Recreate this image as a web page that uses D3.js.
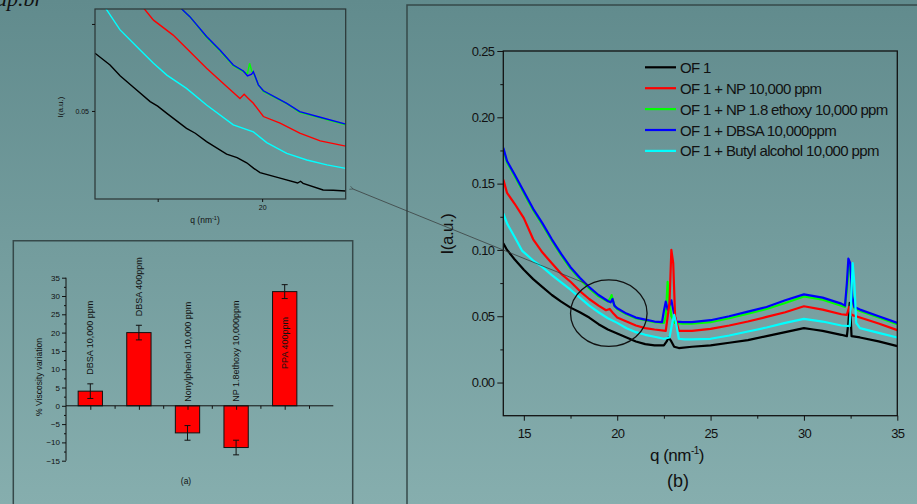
<!DOCTYPE html>
<html>
<head>
<meta charset="utf-8">
<script src="https://cdnjs.cloudflare.com/ajax/libs/d3/7.8.5/d3.min.js"></script>
<style>
body { margin: 0; overflow: hidden; }
svg text { font-family: "Liberation Sans", Arial, sans-serif; fill: #111; }
</style>
</head>
<body>
<div id="map"></div>
<script>
// ---- (b) SAXS curves, [q, I] ----
const legendLabels = ["OF 1", "OF 1 + NP 10,000 ppm", "OF 1 + NP 1.8 ethoxy 10,000 ppm", "OF 1 + DBSA 10,000ppm", "OF 1 + Butyl alcohol 10,000 ppm"];
const seriesColors = ["#000000", "#ff0000", "#00ff00", "#0000ff", "#00ffff"];

const of1 = [[13.9,0.105],[14.1,0.1],[14.5,0.093],[15,0.085],[15.5,0.078],[16,0.072],[16.5,0.066],[17,0.061],[17.5,0.0565],[18,0.053],[18.5,0.049],[19,0.044],[19.5,0.040],[20,0.037],[20.5,0.034],[21,0.031],[21.5,0.029],[22,0.028],[22.5,0.028],[22.65,0.031],[22.75,0.034],[22.9,0.031],[23.05,0.027],[23.3,0.026],[24,0.027],[25,0.028],[26,0.030],[27,0.032],[28,0.035],[29,0.038],[30,0.041],[30.5,0.040],[31,0.039],[32,0.036],[32.3,0.035],[32.38,0.045],[32.45,0.06],[32.5,0.05],[32.55,0.035],[33,0.034],[34,0.031],[35,0.0275]];
const ofNP = [[13.9,0.153],[14.1,0.143],[14.5,0.135],[15,0.124],[15.5,0.108],[16,0.098],[16.5,0.09],[17,0.082],[17.5,0.076],[18,0.069],[18.5,0.063],[19,0.058],[19.4,0.0545],[19.6,0.0555],[19.8,0.052],[20,0.049],[20.5,0.046],[21,0.043],[21.5,0.041],[22,0.04],[22.6,0.039],[22.8,0.06],[22.9,0.1],[23.0,0.09],[23.1,0.05],[23.3,0.039],[24,0.039],[25,0.0405],[26,0.043],[27,0.046],[28,0.0495],[29,0.053],[30,0.0575],[31,0.055],[32,0.0515],[32.3,0.051],[32.42,0.057],[32.55,0.051],[33,0.049],[34,0.0445],[35,0.0395]];
const ofNPeth = [[13.9,0.176],[14.1,0.166],[14.5,0.156],[15,0.143],[15.5,0.130],[16,0.119],[16.5,0.107],[17,0.096],[17.5,0.086],[18,0.078],[18.5,0.071],[19,0.065],[19.5,0.061],[19.65,0.064],[19.7,0.066],[19.8,0.060],[19.9,0.057],[20,0.0555],[20.5,0.0515],[21,0.0485],[21.5,0.047],[22,0.0455],[22.5,0.045],[22.6,0.05],[22.7,0.076],[22.8,0.06],[22.9,0.05],[23.1,0.045],[23.5,0.0445],[24,0.0445],[25,0.0455],[26,0.0485],[27,0.052],[28,0.0555],[29,0.06],[30,0.065],[31,0.0625],[32,0.058],[32.2,0.057],[32.3,0.07],[32.4,0.088],[32.5,0.085],[32.6,0.062],[32.7,0.056],[33,0.054],[34,0.049],[35,0.044]];
const ofDBSA = [[13.9,0.177],[14.1,0.167],[14.5,0.157],[15,0.144],[15.5,0.131],[16,0.12],[16.5,0.108],[17,0.097],[17.5,0.087],[18,0.079],[18.5,0.072],[19,0.066],[19.5,0.0615],[19.65,0.0605],[19.75,0.063],[19.85,0.058],[20,0.056],[20.5,0.052],[21,0.049],[21.5,0.0475],[22,0.046],[22.4,0.0455],[22.5,0.054],[22.6,0.061],[22.7,0.055],[22.9,0.062],[23.0,0.055],[23.15,0.046],[23.5,0.0455],[24,0.0455],[25,0.047],[26,0.05],[27,0.0535],[28,0.057],[29,0.062],[30,0.0665],[31,0.064],[32,0.0595],[32.2,0.058],[32.3,0.075],[32.38,0.0935],[32.48,0.09],[32.58,0.065],[32.7,0.057],[33,0.055],[34,0.05],[35,0.045]];
const ofButyl = [[13.9,0.1275],[14.1,0.12],[14.5,0.11],[14.9,0.0995],[15.5,0.092],[16,0.087],[16.5,0.081],[17,0.0755],[17.5,0.07],[18,0.064],[18.5,0.058],[19,0.053],[19.5,0.0485],[20,0.045],[20.5,0.041],[21,0.038],[21.5,0.036],[22,0.0345],[22.5,0.033],[22.8,0.034],[22.95,0.045],[23.05,0.051],[23.15,0.045],[23.3,0.033],[23.6,0.0325],[24,0.0325],[25,0.033],[26,0.0355],[27,0.0385],[28,0.0415],[29,0.045],[30,0.048],[31,0.046],[32,0.043],[32.45,0.0425],[32.52,0.06],[32.61,0.09],[32.7,0.075],[32.8,0.045],[33,0.041],[34,0.0375],[35,0.034]];
const mainSeries = [of1, ofNP, ofNPeth, ofDBSA, ofButyl];
const drawOrder = [2, 3, 0, 1, 4];
const qTicks = [15, 20, 25, 30, 35];
const qMinor = [17.5, 22.5, 27.5, 32.5];
const iTicks = [0, 0.05, 0.10, 0.15, 0.20, 0.25];
const iMinor = [0.025, 0.075, 0.125, 0.175, 0.225];

// ---- inset (zoom around q = 20) ----
const inBlack = [[16,0.0666],[16.36,0.0632],[16.6,0.0601],[16.92,0.0568],[17.32,0.0527],[17.5,0.0514],[17.72,0.0493],[18.19,0.045],[18.4,0.0436],[18.67,0.0412],[19.15,0.0376],[19.4,0.0366],[19.63,0.0351],[19.8,0.0335],[19.95,0.0323],[20.43,0.0307],[20.85,0.0293],[20.92,0.0298],[20.98,0.0292],[21.46,0.0273],[21.7,0.0272],[22,0.027]];
const inRed = [[17.1,0.0805],[17.4,0.0761],[17.87,0.0718],[18.19,0.068],[18.67,0.0623],[19.15,0.057],[19.47,0.0536],[19.57,0.0548],[19.67,0.0536],[19.79,0.0522],[20.03,0.0484],[20.43,0.0465],[20.9,0.0436],[21.39,0.0414],[22,0.0399]];
const inGreen = [[17.97,0.0805],[18.27,0.0771],[18.67,0.0712],[18.99,0.0673],[19.31,0.063],[19.55,0.0613],[19.65,0.0608],[19.7,0.0637],[19.75,0.0615],[19.79,0.061],[19.91,0.0575],[20.03,0.0556],[20.59,0.0521],[20.9,0.0496],[21.39,0.048],[22,0.046]];
const inBlue = [[17.97,0.0805],[18.27,0.0771],[18.67,0.0714],[18.99,0.0675],[19.31,0.0632],[19.55,0.0615],[19.65,0.0601],[19.75,0.0606],[19.79,0.0613],[19.91,0.0575],[20.03,0.0558],[20.59,0.0522],[20.9,0.0498],[21.39,0.0482],[22,0.0462]];
const inCyan = [[16.2,0.0805],[16.6,0.0733],[17.08,0.0675],[17.4,0.0637],[17.72,0.0603],[18.19,0.0565],[18.67,0.0517],[19.31,0.046],[19.79,0.044],[20.11,0.0409],[20.59,0.0378],[21.07,0.0359],[21.55,0.0345],[22,0.0335]];
const insetSeries = [inBlack, inRed, inGreen, inBlue, inCyan];

// ---- (a) viscosity bars ----
const barLabels = ["DBSA 10,000 ppm", "DBSA 400ppm", "Nonylphenol 10,000 ppm", "NP 1.8ethoxy 10,000ppm", "PPA 400ppm"];
const barValues = [4, 20, -7.4, -11.4, 31.2];
const barErrors = [2, 2, 2, 2, 1.9];
const vTicks = [-15, -10, -5, 0, 5, 10, 15, 20, 25, 30, 35];

const W = 917, H = 504;
const svg = d3.select("#map").append("svg").attr("width", W).attr("height", H);

const grad = svg.append("defs").append("linearGradient")
    .attr("id", "bg").attr("x1", 0).attr("y1", 0).attr("x2", 0).attr("y2", 1);
grad.append("stop").attr("offset", 0).attr("stop-color", "#618b8d");
grad.append("stop").attr("offset", 1).attr("stop-color", "#86aeae");
svg.append("rect").attr("width", W).attr("height", H).attr("fill", "url(#bg)");

svg.append("text").attr("x", -4).attr("y", 6)
    .style("font-family", "'Liberation Serif', serif").style("font-style", "italic")
    .style("font-size", "22px").text("ap.br");

// panel frames
svg.append("path").attr("d", "M407,504V5H920").attr("fill", "none").attr("stroke", "#36494a").attr("stroke-width", 1.5);
svg.append("path").attr("d", "M13.3,504V240.7H352.7V504").attr("fill", "none").attr("stroke", "#36494a").attr("stroke-width", 1.5);

function styleAxis(g) {
    g.select(".domain").remove();
    g.selectAll("line").attr("stroke", "#111");
    g.selectAll("text").attr("fill", "#111");
}

function plot_main() {
    const x = d3.scaleLinear().domain([13.9, 35]).range([503.3, 897.3]);
    const y = d3.scaleLinear().domain([-0.025, 0.25]).range([415.7, 51]);
    const g = svg.append("g");

    g.append("clipPath").attr("id", "mclip").append("rect")
        .attr("x", 503.3).attr("y", 51).attr("width", 394).attr("height", 364.7);

    const line = d3.line().x(d => x(d[0])).y(d => y(d[1]));
    drawOrder.forEach(i => {
        g.append("path").datum(mainSeries[i]).attr("d", line)
            .attr("clip-path", "url(#mclip)")
            .attr("fill", "none").attr("stroke", seriesColors[i]).attr("stroke-width", 2.2)
            .attr("stroke-linejoin", "round");
    });

    g.append("rect").attr("x", 503.3).attr("y", 51).attr("width", 394).attr("height", 364.7)
        .attr("fill", "none").attr("stroke", "#111").attr("stroke-width", 1.3);

    const xa = g.append("g").attr("transform", "translate(0,415.7)")
        .call(d3.axisBottom(x).tickValues(qTicks).tickSize(5).tickPadding(8));
    xa.selectAll("text").style("font-size", "13px").style("letter-spacing", "-0.7px");
    styleAxis(xa);
    styleAxis(g.append("g").attr("transform", "translate(0,415.7)")
        .call(d3.axisBottom(x).tickValues(qMinor).tickSize(3).tickFormat("")));

    const ya = g.append("g").attr("transform", "translate(503.3,0)")
        .call(d3.axisLeft(y).tickValues(iTicks).tickFormat(d3.format(".2f")).tickSize(6).tickPadding(3));
    ya.selectAll("text").style("font-size", "13px").style("letter-spacing", "-0.7px");
    styleAxis(ya);
    styleAxis(g.append("g").attr("transform", "translate(503.3,0)")
        .call(d3.axisLeft(y).tickValues(iMinor).tickSize(3).tickFormat("")));

    const ql = g.append("text").attr("x", 677).attr("y", 461).attr("text-anchor", "middle")
        .style("font-size", "17px").style("letter-spacing", "-0.5px");
    ql.append("tspan").text("q (nm");
    ql.append("tspan").attr("dy", -7).style("font-size", "10px").text("-1");
    ql.append("tspan").attr("dy", 7).text(")");
    g.append("text").attr("x", 678).attr("y", 487).attr("text-anchor", "middle")
        .style("font-size", "18px").text("(b)");
    g.append("text").attr("transform", "translate(453,234) rotate(-90)").attr("text-anchor", "middle")
        .style("font-size", "17px").style("letter-spacing", "-0.5px").text("I(a.u.)");

    const leg = g.append("g");
    legendLabels.forEach((lab, i) => {
        const ly = 67.3 + i * 20.9;
        leg.append("line").attr("x1", 645).attr("x2", 676).attr("y1", ly).attr("y2", ly)
            .attr("stroke", seriesColors[i]).attr("stroke-width", 2.2);
        leg.append("text").attr("x", 680).attr("y", ly + 5.5)
            .style("font-size", "15px").style("letter-spacing", "-0.65px").text(lab);
    });

    // zoom mark and pointer to the inset
    g.append("ellipse").attr("cx", x(19.55)).attr("cy", y(0.0523))
        .attr("rx", x(21.6) - x(19.55)).attr("ry", y(0.0272) - y(0.0523))
        .attr("fill", "none").attr("stroke", "#111").attr("stroke-width", 1.3);
    return [x(18.38), y(0.0743)];
}

function plot_inset(target) {
    const x = d3.scaleLinear().domain([16, 22]).range([95, 345.7]);
    const y = d3.scaleLinear().domain([0.0247, 0.0793]).range([199, 9]);
    const g = svg.append("g");

    g.append("clipPath").attr("id", "iclip").append("rect")
        .attr("x", 95).attr("y", 9).attr("width", 250.7).attr("height", 190);
    const line = d3.line().x(d => x(d[0])).y(d => y(d[1]));
    [0, 1, 4, 2, 3].forEach(i => {
        g.append("path").datum(insetSeries[i]).attr("d", line)
            .attr("clip-path", "url(#iclip)")
            .attr("fill", "none").attr("stroke", seriesColors[i]).attr("stroke-width", 1.4);
    });
    g.append("rect").attr("x", 95).attr("y", 9).attr("width", 250.7).attr("height", 190)
        .attr("fill", "none").attr("stroke", "#2a3535").attr("stroke-width", 1.2);

    const xa = g.append("g").attr("transform", "translate(0,199)")
        .call(d3.axisBottom(x).tickValues([17.5, 20]).tickFormat(d => d === 20 ? "20" : "").tickSize(3).tickPadding(3));
    xa.selectAll("text").style("font-size", "7px");
    styleAxis(xa);
    const ya = g.append("g").attr("transform", "translate(95,0)")
        .call(d3.axisLeft(y).tickValues([0.05, 0.075]).tickFormat(d => d === 0.05 ? "0.05" : "").tickSize(3).tickPadding(3));
    ya.selectAll("text").style("font-size", "7px");
    styleAxis(ya);

    const ql = g.append("text").attr("x", 205).attr("y", 223).attr("text-anchor", "middle").style("font-size", "8.5px");
    ql.append("tspan").text("q (nm");
    ql.append("tspan").attr("dy", -3.5).style("font-size", "5.5px").text("-1");
    ql.append("tspan").attr("dy", 3.5).text(")");
    g.append("text").attr("transform", "translate(63,107) rotate(-90)").attr("text-anchor", "middle")
        .style("font-size", "8px").text("I(a.u.)");

    // pointer line from the zoom circle to the inset
    svg.append("defs").append("marker").attr("id", "arr").attr("viewBox", "0 0 10 10")
        .attr("refX", 1).attr("refY", 5).attr("markerWidth", 6).attr("markerHeight", 6).attr("orient", "auto")
        .append("path").attr("d", "M9,1L1,5L9,9").attr("fill", "none").attr("stroke", "#333").attr("stroke-width", 1.2);
    svg.append("line").attr("x1", target[0]).attr("y1", target[1]).attr("x2", 353).attr("y2", 189)
        .attr("stroke", "#333").attr("stroke-width", 0.7).attr("marker-end", "url(#arr)");
}

function plot_bars() {
    const x = d3.scaleLinear().domain([0.5, 6]).range([66, 333.3]);
    const y = d3.scaleLinear().domain([-15, 35]).range([460.7, 277.7]);
    const g = svg.append("g");

    g.selectAll("rect.bar").data(barValues).enter().append("rect")
        .attr("x", (d, i) => x(i + 1 - 0.25))
        .attr("y", d => y(Math.max(0, d)))
        .attr("width", x(1.25) - x(0.75))
        .attr("height", d => Math.abs(y(d) - y(0)))
        .attr("fill", "#ff0000").attr("stroke", "#111").attr("stroke-width", 1);

    barValues.forEach((v, i) => {
        const cx = x(i + 1), e = barErrors[i];
        g.append("path")
            .attr("d", `M${cx},${y(v - e)}V${y(v + e)}M${cx - 3},${y(v - e)}H${cx + 3}M${cx - 3},${y(v + e)}H${cx + 3}`)
            .attr("stroke", "#111").attr("stroke-width", 1).attr("fill", "none");
        let ty, anchor = "start";
        if (v + e > 30) { ty = y(v * 0.55); anchor = "middle"; }
        else ty = y(Math.max(0, v + e)) - (v > 0 ? 9 : 4);
        g.append("text").attr("transform", `translate(${cx + 3},${ty}) rotate(-90)`)
            .attr("text-anchor", anchor).style("font-size", "9px").text(barLabels[i]);
    });

    const xa = g.append("g").attr("transform", `translate(0,${y(0)})`)
        .call(d3.axisBottom(x).tickValues([1, 2, 3, 4, 5]).tickSize(4).tickFormat(""));
    styleAxis(xa);
    styleAxis(g.append("g").attr("transform", `translate(0,${y(0)})`)
        .call(d3.axisBottom(x).tickValues([1.5, 2.5, 3.5, 4.5, 5.5]).tickSize(3).tickFormat("")));
    g.append("line").attr("x1", x(0.5)).attr("x2", x(6)).attr("y1", y(0)).attr("y2", y(0))
        .attr("stroke", "#111").attr("stroke-width", 1);

    const ya = g.append("g").attr("transform", "translate(66,0)")
        .call(d3.axisLeft(y).tickValues(vTicks).tickSize(4).tickPadding(2));
    ya.selectAll("text").style("font-size", "8px");
    styleAxis(ya);
    styleAxis(g.append("g").attr("transform", "translate(66,0)")
        .call(d3.axisLeft(y).tickValues(vTicks.slice(0, -1).map(d => d + 2.5)).tickSize(2).tickFormat("")));
    g.append("line").attr("x1", 66).attr("x2", 66).attr("y1", y(-15)).attr("y2", y(35))
        .attr("stroke", "#111").attr("stroke-width", 1);

    g.append("text").attr("transform", "translate(42,377) rotate(-90)").attr("text-anchor", "middle")
        .style("font-size", "8.5px").text("% Viscosity variation");
    g.append("text").attr("x", 186).attr("y", 484).attr("text-anchor", "middle")
        .style("font-size", "8.5px").text("(a)");
}

const target = plot_main();
plot_inset(target);
plot_bars();
</script>
</body>
</html>
